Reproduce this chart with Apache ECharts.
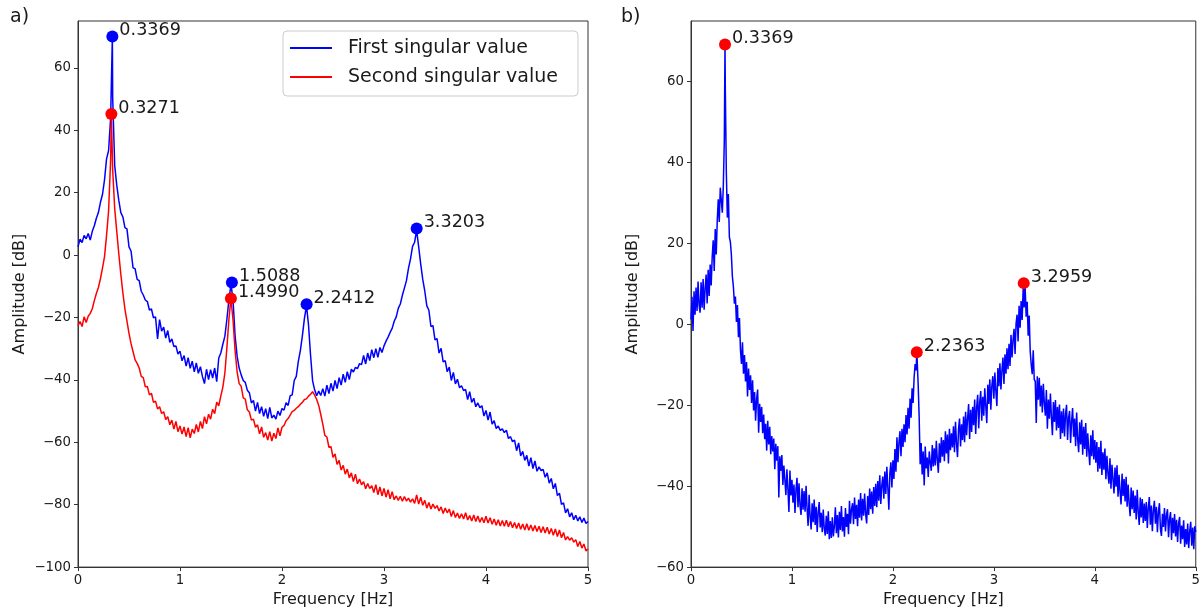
<!DOCTYPE html>
<html><head><meta charset="utf-8">
<script src="https://cdn.jsdelivr.net/npm/echarts@6/dist/echarts.min.js"></script>
<style>html,body{margin:0;padding:0;background:#fff}#c{width:1203px;height:613px}</style>
</head><body><div id="c"></div>
<script>
// ---- Panel a) : frequency grid spacing (Hz) and amplitudes (dB) ----
const freqStepA = 0.02;
const firstSV = [
2.6, 5.1, 4.0, 6.3, 5.2, 6.9, 4.8, 7.6, 9.4, 11.8,
13.6, 16.9, 19.4, 24.1, 30.8, 33.5, 44.0, 50.5, 28.6, 22.4,
17.5, 13.6, 12.2, 8.8, 8.4, 2.6, 1.3, -4.1, -4.4, -7.8,
-8.2, -11.6, -12.8, -14.4, -14.9, -17.6, -17.3, -20.1, -19.8, -26.9,
-20.7, -24.4, -23.1, -26.6, -24.2, -28.0, -26.9, -29.3, -29.1, -31.7,
-30.8, -33.9, -32.2, -35.6, -32.9, -36.3, -34.0, -37.4, -34.6, -37.9,
-35.8, -38.9, -41.2, -36.6, -39.9, -36.7, -39.4, -36.2, -40.6, -33.0,
-31.4, -28.6, -26.0, -20.5, -14.2, -9.3, -14.5, -25.8, -32.4, -36.2,
-38.4, -40.2, -40.8, -43.3, -44.1, -47.4, -46.6, -50.0, -47.2, -50.8,
-48.6, -51.7, -49.2, -52.4, -48.8, -52.2, -51.3, -52.6, -50.0, -51.4,
-49.2, -49.7, -47.3, -48.2, -45.1, -44.8, -40.2, -38.9, -34.1, -30.6,
-25.8, -20.3, -16.2, -22.4, -32.1, -40.3, -43.2, -45.1, -43.6, -45.0,
-42.8, -45.2, -41.7, -44.4, -41.1, -43.6, -40.2, -42.8, -39.3, -41.7,
-38.2, -40.8, -37.4, -39.9, -36.6, -37.5, -36.0, -36.4, -34.8, -35.1,
-32.2, -34.9, -31.4, -33.8, -30.3, -32.9, -30.0, -32.8, -29.6, -31.2,
-29.1, -27.6, -26.3, -24.8, -23.5, -21.2, -19.8, -17.1, -15.7, -12.9,
-10.6, -8.2, -4.3, -1.2, 2.8, 4.1, 7.9, 2.6, -2.9, -7.8,
-11.6, -16.3, -17.7, -22.9, -22.6, -27.2, -26.8, -31.4, -29.9, -34.2,
-33.8, -37.4, -35.9, -40.2, -37.6, -41.3, -39.8, -42.5, -41.9, -43.4,
-43.1, -46.3, -43.8, -47.2, -45.9, -48.6, -47.4, -48.9, -48.3, -51.6,
-49.8, -52.9, -50.3, -54.2, -53.1, -55.6, -54.8, -56.2, -55.7, -56.9,
-56.1, -58.8, -58.2, -59.8, -59.3, -62.7, -60.2, -64.4, -62.9, -65.8,
-64.2, -67.6, -64.9, -68.4, -66.0, -69.3, -67.9, -69.1, -68.7, -71.2,
-69.8, -73.1, -71.6, -74.9, -73.2, -77.1, -76.3, -79.9, -79.4, -82.6,
-81.3, -83.9, -82.6, -84.8, -83.4, -85.2, -83.9, -85.7, -84.3, -86.0,
-85.4
];
const secondSV = [
-22.6, -21.3, -22.9, -19.8, -21.6, -19.6, -18.7, -17.2, -14.6, -12.3,
-10.4, -7.6, -4.2, -0.5, 6.3, 14.2, 30.5, 27.4, 14.8, 7.6,
0.4, -6.2, -12.1, -17.3, -21.2, -25.1, -28.4, -31.0, -33.6, -34.7,
-36.2, -38.9, -39.3, -42.2, -42.1, -44.8, -44.3, -47.2, -46.8, -49.3,
-48.6, -50.8, -50.2, -52.7, -51.8, -54.4, -52.9, -55.8, -53.3, -56.6,
-54.8, -57.4, -55.1, -58.2, -55.3, -58.6, -55.8, -57.2, -54.3, -56.7,
-53.3, -55.6, -51.8, -54.1, -51.0, -52.6, -49.4, -50.8, -47.1, -48.3,
-45.2, -42.3, -37.8, -29.6, -20.4, -14.1, -20.8, -30.6, -37.4, -41.2,
-42.1, -45.8, -46.2, -49.6, -50.3, -52.9, -52.6, -55.2, -54.4, -57.3,
-55.1, -58.4, -56.9, -59.3, -56.6, -59.6, -57.1, -58.8, -55.4, -57.9,
-55.2, -54.6, -53.1, -52.4, -51.3, -50.2, -49.8, -49.1, -48.6, -47.8,
-47.2, -46.3, -46.1, -45.2, -44.6, -43.8, -44.9, -46.3, -48.2, -51.1,
-54.2, -57.8, -58.3, -61.6, -61.4, -64.8, -63.7, -67.1, -65.8, -68.9,
-67.4, -70.2, -68.6, -71.4, -69.8, -72.6, -70.2, -73.3, -71.8, -73.6,
-72.6, -74.9, -73.2, -74.8, -73.9, -76.1, -73.6, -76.8, -74.3, -77.2,
-74.8, -77.6, -75.2, -78.1, -75.8, -78.4, -77.2, -78.6, -77.3, -78.9,
-77.4, -78.8, -77.9, -79.2, -78.1, -79.6, -76.9, -79.8, -77.6, -80.2,
-78.6, -81.1, -79.3, -81.4, -79.8, -81.2, -80.3, -82.0, -80.7, -82.8,
-81.1, -82.6, -81.4, -83.8, -81.9, -84.1, -82.7, -84.4, -82.9, -84.6,
-82.6, -84.9, -83.5, -85.2, -83.3, -85.4, -83.6, -85.6, -84.1, -85.8,
-83.7, -85.9, -84.2, -86.3, -84.6, -86.6, -84.8, -86.8, -85.1, -86.9,
-85.0, -87.1, -85.4, -87.4, -85.7, -87.6, -85.9, -87.9, -86.2, -88.1,
-86.1, -88.2, -86.5, -88.4, -86.7, -88.6, -86.9, -88.9, -87.1, -89.1,
-87.2, -89.4, -87.6, -89.8, -87.8, -90.2, -88.1, -90.6, -88.9, -91.3,
-90.2, -91.4, -90.6, -92.0, -91.2, -93.4, -91.8, -93.9, -92.6, -94.8,
-94.2
];
const peaksFirst = [[0.3369, 70.0], [1.5088, -8.8], [2.2412, -15.8], [3.3203, 8.5]];
const peaksSecond = [[0.3271, 45.2], [1.4990, -13.9]];

// ---- Panel b) ----
const freqStepB = 0.01;
const singleSV = [
1.2, 6.8, -1.6, 8.2, 2.4, 9.1, 3.3, 10.6, 4.8, 2.9,
10.4, 4.1, 11.2, 3.6, 8.8, 12.3, 5.2, 13.5, 7.0, 14.8,
9.6, 16.7, 20.8, 13.2, 23.6, 17.3, 25.7, 30.9, 25.3, 33.8,
33.4, 27.6, 34.1, 45.5, 58.0, 37.6, 26.4, 32.2, 21.6, 20.4,
17.2, 11.8, 9.3, 5.1, 6.9, 0.6, 4.8, -3.2, 1.6, -6.3,
-9.8, -4.4, -12.2, -7.6, -14.1, -9.3, -17.8, -10.9, -16.2, -12.6,
-19.4, -13.8, -21.3, -16.7, -23.8, -18.4, -16.1, -26.8, -19.6, -24.1,
-20.4, -26.9, -22.3, -28.4, -24.6, -31.2, -23.8, -29.7, -25.3, -32.1,
-27.6, -31.4, -28.2, -35.8, -29.5, -33.7, -30.1, -42.8, -32.6, -36.2,
-32.3, -39.7, -34.9, -38.4, -42.2, -35.8, -40.6, -46.4, -36.1, -42.3,
-38.4, -44.1, -39.6, -46.6, -40.8, -37.9, -45.2, -39.3, -44.7, -47.1,
-40.5, -45.8, -41.2, -46.3, -39.9, -45.6, -49.8, -42.1, -47.4, -50.7,
-44.2, -48.9, -43.3, -49.6, -45.1, -51.3, -46.4, -43.9, -50.2, -46.6,
-51.4, -45.8, -50.5, -52.2, -47.3, -51.8, -46.2, -53.1, -48.6, -52.8,
-47.7, -52.4, -49.9, -45.2, -51.6, -47.1, -52.7, -46.3, -50.8, -44.9,
-51.2, -47.6, -52.5, -45.4, -50.1, -46.8, -51.9, -43.6, -49.3, -45.7,
-44.2, -49.4, -42.8, -48.1, -44.6, -49.9, -43.3, -47.8, -41.7, -48.5,
-43.1, -47.3, -41.8, -46.9, -49.2, -42.4, -47.1, -40.6, -45.7, -41.3,
-46.8, -40.2, -44.9, -39.4, -45.2, -38.7, -43.6, -37.3, -44.4, -39.8,
-37.6, -43.1, -36.4, -41.9, -35.2, -40.5, -45.8, -36.8, -34.1, -40.3,
-33.6, -38.2, -30.8, -36.4, -27.9, -34.1, -29.2, -26.4, -32.6, -25.8,
-30.3, -24.7, -29.1, -22.4, -27.2, -20.6, -25.8, -18.3, -23.1, -15.8,
-19.4, -13.2, -9.8, -11.4, -8.6, -14.7, -22.8, -34.6, -29.3, -37.1,
-31.4, -39.8, -30.2, -35.6, -32.9, -37.7, -31.4, -34.1, -36.2, -29.8,
-35.1, -30.6, -34.9, -28.8, -33.5, -36.7, -29.4, -34.2, -27.9, -32.7,
-28.6, -33.8, -26.4, -31.9, -27.2, -34.4, -25.8, -31.1, -26.9, -30.4,
-25.2, -31.6, -24.1, -29.4, -32.8, -25.9, -23.3, -30.2, -24.7, -28.6,
-22.8, -29.1, -21.6, -27.4, -23.2, -19.7, -28.3, -21.1, -26.6, -20.4,
-24.9, -18.6, -27.1, -20.3, -17.4, -25.7, -19.2, -16.5, -23.8, -17.9,
-22.6, -15.8, -20.3, -24.4, -14.9, -19.7, -13.6, -21.1, -15.2, -12.8,
-18.4, -11.9, -16.6, -20.2, -10.8, -15.3, -9.6, -16.1, -11.4, -8.2,
-14.7, -7.4, -12.2, -5.9, -11.1, -4.8, -10.3, -2.6, -8.2, -3.9,
-1.1, -7.3, 0.2, 2.4, -4.2, 4.6, -0.8, 5.8, 1.1, 8.6,
4.2, 9.1, 1.9, 5.6, -2.8, 2.2, -6.6, -9.9, -12.3, -6.4,
-13.6, -14.1, -24.4, -12.8, -18.6, -13.2, -20.3, -15.1, -21.8, -14.7,
-19.4, -22.6, -16.2, -25.8, -18.6, -23.3, -17.1, -22.9, -27.4, -19.2,
-24.1, -18.7, -26.2, -20.4, -25.6, -19.8, -28.3, -21.5, -26.9, -20.8,
-27.7, -22.2, -19.9, -28.6, -23.1, -21.4, -29.3, -24.0, -20.7, -27.8,
-23.3, -30.1, -21.8, -28.4, -31.6, -24.2, -29.7, -23.6, -32.2, -25.3,
-30.8, -24.4, -32.7, -26.9, -31.2, -34.8, -27.4, -32.6, -26.2, -33.4,
-28.6, -34.2, -29.1, -36.4, -30.3, -35.7, -28.8, -37.2, -31.6, -35.9,
-30.7, -38.3, -32.5, -36.8, -39.4, -33.1, -40.6, -34.7, -38.2, -41.8,
-35.4, -40.1, -34.8, -42.6, -37.2, -41.3, -44.5, -36.9, -42.4, -38.2,
-43.8, -37.7, -45.1, -39.6, -44.2, -47.4, -40.3, -45.7, -41.1, -46.6,
-42.3, -48.2, -40.9, -46.4, -49.6, -42.8, -47.7, -43.2, -49.1, -44.3,
-48.6, -43.9, -50.3, -45.2, -42.7, -49.5, -44.8, -51.1, -45.9, -43.6,
-49.3, -45.1, -51.4, -46.3, -44.2, -50.6, -52.3, -46.8, -50.1, -45.4,
-51.2, -47.1, -45.7, -52.6, -48.2, -46.4, -53.3, -47.8, -51.6, -46.9,
-52.4, -48.3, -53.8, -49.1, -47.6, -54.2, -49.7, -53.1, -48.4, -55.0,
-50.6, -54.4, -49.2, -55.3, -51.1, -48.8, -54.7, -50.2, -55.6, -49.9,
-51.3
];
const peaksB = [[0.3369, 69.2], [2.2363, -6.9], [3.2959, 10.2]];

const xTicks = [0, 1, 2, 3, 4, 5];
const yTicksA = [-100, -80, -60, -40, -20, 0, 20, 40, 60];
const yTicksB = [-60, -40, -20, 0, 20, 40, 60];

// build [freq, amp] pairs, inserting the annotated peak samples
function toPairs(vals, step, peaks) {
  const pts = vals.map((v, i) => [Math.round(i * step * 10000) / 10000, v]);
  peaks.forEach(p => pts.push([p[0], p[1]]));
  pts.sort((a, b) => a[0] - b[0]);
  return pts;
}

const FONT = 'DejaVu Sans';
const minus = v => String(v).replace('-', '\u2212');
const TXT = '#1a1a1a';

function xAxis(gi) {
  return {
    type: 'value', gridIndex: gi, min: 0, max: 5, interval: 1,
    name: 'Frequency [Hz]', nameLocation: 'middle', nameGap: 22,
    nameTextStyle: { fontFamily: FONT, fontSize: 16, color: TXT },
    axisLine: { show: true, onZero: false, lineStyle: { color: '#333', width: 1 } },
    axisTick: { show: true, length: 4, lineStyle: { color: '#333' }, customValues: xTicks },
    axisLabel: { fontFamily: FONT, fontSize: 13.3, color: TXT, margin: 7, customValues: xTicks, formatter: minus },
    splitLine: { show: false }
  };
}
function yAxis(gi, min, ticks) {
  return {
    type: 'value', gridIndex: gi, min: min, max: 75,
    name: 'Amplitude [dB]', nameLocation: 'middle', nameGap: 50, nameRotate: 90,
    nameTextStyle: { fontFamily: FONT, fontSize: 16, color: TXT },
    axisLine: { show: true, onZero: false, lineStyle: { color: '#333', width: 1 } },
    axisTick: { show: true, length: 4, lineStyle: { color: '#333' }, customValues: ticks },
    axisLabel: { fontFamily: FONT, fontSize: 13.3, color: TXT, margin: 7, customValues: ticks, formatter: minus },
    splitLine: { show: false }
  };
}
function peakSeries(name, xi, data, color) {
  return {
    name: name, type: 'scatter', xAxisIndex: xi, yAxisIndex: xi, data: data,
    symbol: 'circle', symbolSize: 12, itemStyle: { color: color, opacity: 1 }, z: 5,
    label: { show: true, position: 'right', distance: 1, offset: [0, -6],
      fontFamily: FONT, fontSize: 17.6, color: TXT,
      formatter: p => p.value[0].toFixed(4) },
    emphasis: { disabled: true }
  };
}
function lineSeries(name, xi, data, color, z) {
  return {
    name: name, type: 'line', xAxisIndex: xi, yAxisIndex: xi, data: data,
    showSymbol: false, symbol: 'none', lineStyle: { color: color, width: 1.5 },
    itemStyle: { color: color }, z: z, clip: true, emphasis: { disabled: true }
  };
}

const chart = echarts.init(document.getElementById('c'), null, { renderer: 'canvas' });
chart.setOption({
  animation: false,
  backgroundColor: '#fff',
  title: [
    { text: 'a)', left: 5, top: 3, textStyle: { fontFamily: FONT, fontSize: 19, fontWeight: 'normal', color: TXT } },
    { text: 'b)', left: 616, top: 3, textStyle: { fontFamily: FONT, fontSize: 19, fontWeight: 'normal', color: TXT } }
  ],
  grid: [
    { left: 78, top: 21, width: 510, height: 548, show: true, borderColor: '#333', borderWidth: 1, backgroundColor: 'transparent' },
    { left: 691, top: 21, width: 510, height: 548, show: true, borderColor: '#333', borderWidth: 1, backgroundColor: 'transparent' }
  ],
  xAxis: [xAxis(0), xAxis(1)],
  yAxis: [yAxis(0, -100, yTicksA), yAxis(1, -60, yTicksB)],
  legend: {
    data: ['First singular value', 'Second singular value'],
    orient: 'vertical', left: 283, top: 31,
    icon: 'rect', itemWidth: 42, itemHeight: 2, itemGap: 7,
    padding: [6, 20, 8, 7],
    backgroundColor: 'rgba(255,255,255,0.8)', borderColor: '#cccccc', borderWidth: 1, borderRadius: 4,
    textStyle: { fontFamily: FONT, fontSize: 19, color: TXT, lineHeight: 22, padding: [0, 0, 0, 11] },
    selectedMode: false
  },
  series: [
    lineSeries('First singular value', 0, toPairs(firstSV, freqStepA, peaksFirst), '#0000ff', 2),
    lineSeries('Second singular value', 0, toPairs(secondSV, freqStepA, peaksSecond), '#ff0000', 3),
    peakSeries('peaks1', 0, peaksFirst, '#0000ff'),
    peakSeries('peaks2', 0, peaksSecond, '#ff0000'),
    lineSeries('Singular value b', 1, toPairs(singleSV, freqStepB, peaksB), '#0000ff', 2),
    peakSeries('peaksB', 1, peaksB, '#ff0000')
  ]
});
</script>
</body></html>
